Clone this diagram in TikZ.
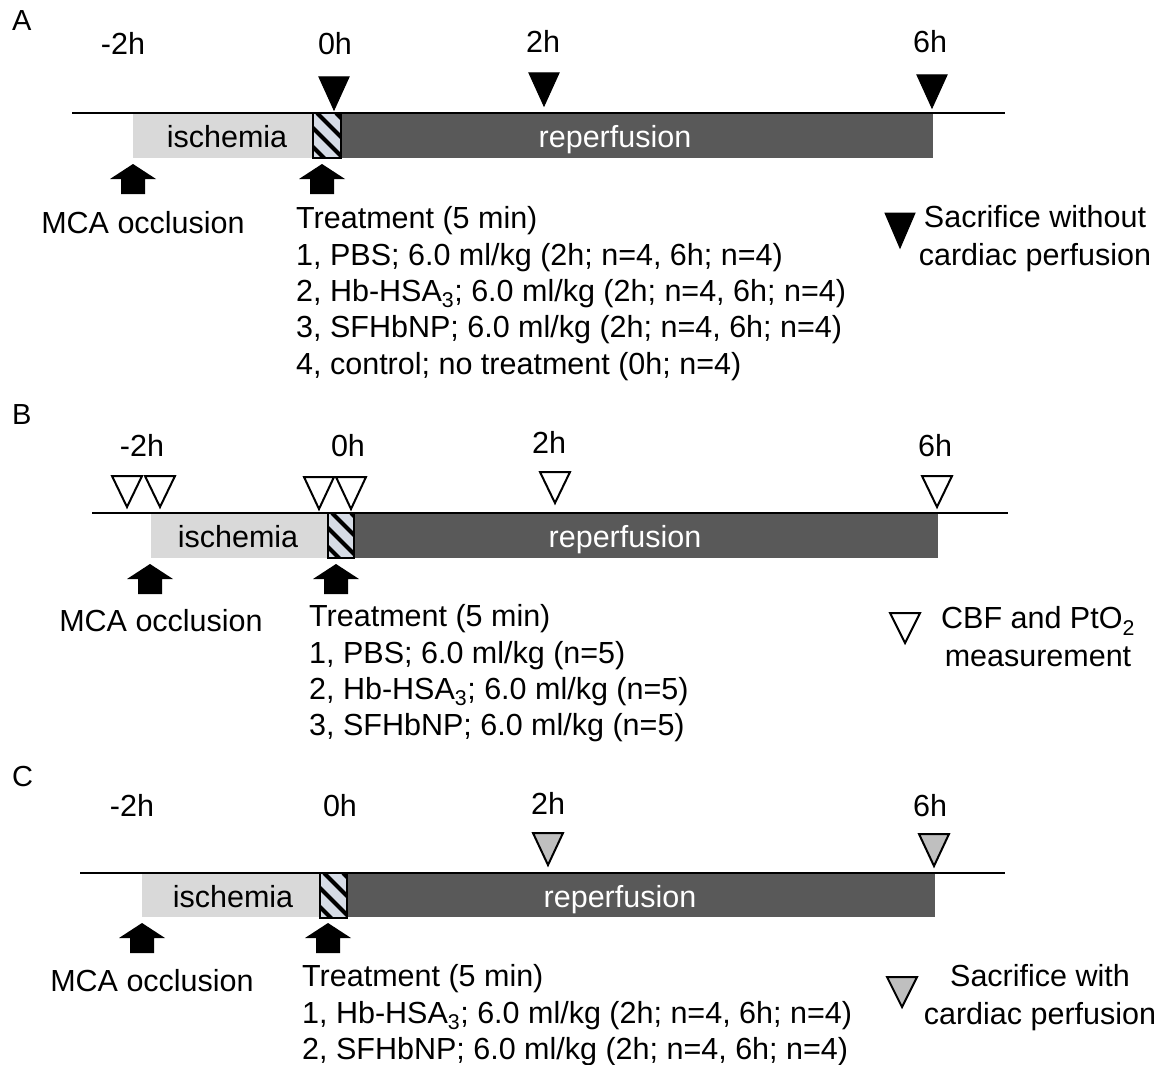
\documentclass[tikz,border=0pt]{standalone}
\usepackage{fontspec}
\setmainfont{Liberation Sans}
\definecolor{ischgray}{HTML}{D9D9D9}
\definecolor{repgray}{HTML}{595959}
\definecolor{hatchfill}{HTML}{D6DCE6}
\definecolor{tripgray}{HTML}{BFBFBF}
\newcommand\tlTri[4]{\draw[#1] (#2-15,#3) -- (#2+15,#3) -- (#2,#4) -- cycle;}
\newcommand\tlArrow[2]{\fill (#1,#2) -- (#1+23,#2+15) -- (#1+12,#2+15) -- (#1+12,#2+30) -- (#1-12,#2+30) -- (#1-12,#2+15) -- (#1-23,#2+15) -- cycle;}
\newcommand\tlHatch[3]{%
  \begin{scope}
    \clip (#1,#3) rectangle (#2,#3+45);
    \fill[hatchfill] (#1,#3) rectangle (#2,#3+45);
    \foreach \k in {-3,...,1} \draw[line width=4pt] (#1+\k*19+4, #3) -- ++(60,60);
  \end{scope}
  \draw[line width=2pt] (#1,#3) rectangle (#2,#3+45);}
\tikzset{
  txt/.style={font=\fontsize{30.5}{36}\selectfont, inner sep=0pt, anchor=base},
  lefttxt/.style={txt, anchor=base west},
  lbl/.style={font=\fontsize{29}{34}\selectfont, inner sep=0pt, anchor=base west},
  legend/.style={font=\fontsize{30.5}{38}\selectfont, inner sep=0pt, align=center},
  tline/.style={line width=2.5pt},
  blacktri/.style={fill=black, draw=black, line width=1pt, line join=miter},
  opentri/.style={fill=white, draw=black, line width=2pt, line join=miter},
  graytri/.style={fill=tripgray, draw=black, line width=2pt, line join=miter},
}
\begin{document}
\begin{tikzpicture}[x=1pt,y=-1pt]
\useasboundingbox[fill=white] (0,0) rectangle (1162,1065);

% ================= Panel A =================
\node[lbl] (labA) at (12,31) {A};
\node[txt] (tA1) at (123,55) {-2h};
\node[txt] (tA2) at (335,55) {0h};
\node[txt] (tA3) at (543,53) {2h};
\node[txt] (tA4) at (930,53) {6h};
\fill[ischgray] (133,113) rectangle (313,158);
\fill[repgray] (341,113) rectangle (933,158);
\tlHatch{313}{341}{113}
\draw[tline] (72,113) -- (313,113);
\draw[tline] (341,113) -- (1005,113);
\node[txt] (iA) at (227,147) {ischemia};
\node[txt, text=white] (rA) at (615,147) {reperfusion};
\tlTri{blacktri}{334}{77}{110}
\tlTri{blacktri}{544}{73}{106}
\tlTri{blacktri}{932}{75}{108}
\tlArrow{133}{164}
\tlArrow{322}{164}
\node[txt] (mA) at (143,233) {MCA occlusion};
\node[lefttxt] (trA0) at (296,228) {Treatment (5 min)};
\node[lefttxt] (trA1) at (296,265) {1, PBS; 6.0 ml/kg (2h; n=4, 6h; n=4)};
\node[lefttxt] (trA2) at (296,301) {2, Hb-HSA\textsubscript{3}; 6.0 ml/kg (2h; n=4, 6h; n=4)};
\node[lefttxt] (trA3) at (296,337) {3, SFHbNP; 6.0 ml/kg (2h; n=4, 6h; n=4)};
\node[lefttxt] (trA4) at (296,374) {4, control; no treatment (0h; n=4)};
\tlTri{blacktri}{900}{213}{248}
\node[legend] (legA) at (1035,239) {Sacrifice without\\cardiac perfusion};

% ================= Panel B =================
\node[lbl] (labB) at (12,424) {B};
\node[txt] (tB1) at (142,456) {-2h};
\node[txt] (tB2) at (348,456) {0h};
\node[txt] (tB3) at (549,453) {2h};
\node[txt] (tB4) at (935,456) {6h};
\fill[ischgray] (151,513) rectangle (328,558);
\fill[repgray] (354,513) rectangle (938,558);
\tlHatch{328}{354}{513}
\draw[tline] (92,513) -- (328,513);
\draw[tline] (354,513) -- (1008,513);
\node[txt] (iB) at (238,547) {ischemia};
\node[txt, text=white] (rB) at (625,547) {reperfusion};
\tlTri{opentri}{127}{476}{507}
\tlTri{opentri}{160}{476}{507}
\tlTri{opentri}{319}{477}{509}
\tlTri{opentri}{351}{477}{509}
\tlTri{opentri}{555}{472}{503}
\tlTri{opentri}{937}{476}{507}
\tlArrow{150}{564}
\tlArrow{336}{564}
\node[txt] (mB) at (161,631) {MCA occlusion};
\node[lefttxt] (trB0) at (309,626) {Treatment (5 min)};
\node[lefttxt] (trB1) at (309,663) {1, PBS; 6.0 ml/kg (n=5)};
\node[lefttxt] (trB2) at (309,699) {2, Hb-HSA\textsubscript{3}; 6.0 ml/kg (n=5)};
\node[lefttxt] (trB3) at (309,735) {3, SFHbNP; 6.0 ml/kg (n=5)};
\tlTri{opentri}{905}{613}{643}
\node[legend] (legB) at (1038,637) {CBF and PtO\textsubscript{2}\\measurement};

% ================= Panel C =================
\node[lbl] (labC) at (12,786) {C};
\node[txt] (tC1) at (132,816) {-2h};
\node[txt] (tC2) at (340,816) {0h};
\node[txt] (tC3) at (548,814) {2h};
\node[txt] (tC4) at (930,816) {6h};
\fill[ischgray] (142,873) rectangle (320,917);
\fill[repgray] (348,873) rectangle (935,917);
\tlHatch{320}{347}{873}
\draw[tline] (80,873) -- (320,873);
\draw[tline] (347,873) -- (1005,873);
\node[txt] (iC) at (233,907) {ischemia};
\node[txt, text=white] (rC) at (620,907) {reperfusion};
\tlTri{graytri}{548}{833}{865}
\tlTri{graytri}{934}{834}{866}
\tlArrow{142}{923}
\tlArrow{328}{923}
\node[txt] (mC) at (152,991) {MCA occlusion};
\node[lefttxt] (trC0) at (302,986) {Treatment (5 min)};
\node[lefttxt] (trC1) at (302,1023) {1, Hb-HSA\textsubscript{3}; 6.0 ml/kg (2h; n=4, 6h; n=4)};
\node[lefttxt] (trC2) at (302,1059) {2, SFHbNP; 6.0 ml/kg (2h; n=4, 6h; n=4)};
\tlTri{graytri}{902}{977}{1007}
\node[legend] (legC) at (1040,998) {Sacrifice with\\cardiac perfusion};
\end{tikzpicture}
\end{document}
